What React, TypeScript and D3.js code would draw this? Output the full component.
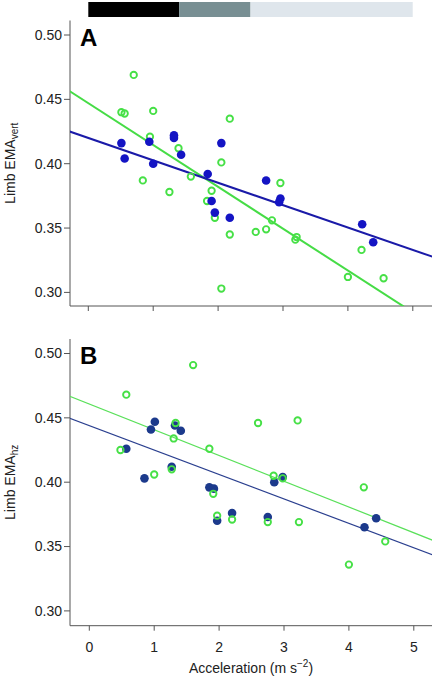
import React from "react";
import * as d3 from "d3";

// ---- Data ----
const phaseStarts = [0, 1.4, 2.5];
const phaseEnds = [1.4, 2.5, 5.0];
const phaseColors = ["#000000", "#788f93", "#dfe6ec"];

// Panel A (Limb EMA vert)
const aBlueX = [0.51, 0.56, 0.94, 1.32, 1.32, 1.43, 1.0, 1.84, 2.05, 1.9, 1.95, 2.18, 2.74, 2.96, 2.94, 4.22, 4.39];
const aBlueY = [0.416, 0.404, 0.417, 0.422, 0.42, 0.407, 0.4, 0.392, 0.416, 0.371, 0.362, 0.358, 0.387, 0.373, 0.37, 0.353, 0.339];
const aGreenX = [0.7, 0.51, 0.56, 1.0, 0.95, 1.39, 2.05, 2.18, 0.84, 1.25, 1.58, 1.9, 1.83, 1.95, 2.18, 2.05, 2.96, 2.83, 2.74, 2.58, 3.21, 3.19, 4.21, 4.0, 4.55];
const aGreenY = [0.469, 0.44, 0.439, 0.441, 0.421, 0.412, 0.401, 0.435, 0.387, 0.378, 0.39, 0.379, 0.371, 0.358, 0.345, 0.303, 0.385, 0.356, 0.349, 0.347, 0.343, 0.341, 0.333, 0.312, 0.311];
// regression [intercept, slope]
const aBlueFit = [0.42, -0.0174];
const aGreenFit = [0.447, -0.0325];

// Panel B (Limb EMA hz)
const bBlueX = [0.57, 0.95, 1.01, 1.32, 1.41, 0.85, 1.27, 1.85, 1.92, 1.97, 2.2, 2.75, 2.85, 2.98, 4.42, 4.24];
const bBlueY = [0.426, 0.441, 0.447, 0.444, 0.44, 0.403, 0.412, 0.396, 0.395, 0.37, 0.376, 0.373, 0.4, 0.404, 0.372, 0.365];
const bGreenX = [1.6, 0.57, 2.6, 3.21, 1.33, 1.3, 1.85, 0.48, 1.0, 1.27, 1.91, 1.97, 2.2, 2.75, 2.84, 2.98, 3.23, 4.23, 4.56, 4.0];
const bGreenY = [0.491, 0.468, 0.446, 0.448, 0.446, 0.434, 0.426, 0.425, 0.406, 0.41, 0.391, 0.374, 0.371, 0.369, 0.405, 0.403, 0.369, 0.396, 0.354, 0.336];
const bBlueFit = [0.444, -0.019];
const bGreenFit = [0.4607, -0.02];

const xTicks = [0, 1, 2, 3, 4, 5];
const yTicks = [0.3, 0.35, 0.4, 0.45, 0.5];

const FONT = "'Liberation Sans', Arial, Helvetica, sans-serif";
const GREEN = "#46e046";

type PanelProps = {
  id: string;
  letter: string;
  top: number;
  bottom: number;
  x0: number;
  yAt50: number;
  blueX: number[];
  blueY: number[];
  greenX: number[];
  greenY: number[];
  blueFit: number[];
  greenFit: number[];
  blueColor: string;
  blueLine: string;
  greenLine: string;
  lineWidth: number;
  sub: string;
  showXLabels: boolean;
  greenFirst: boolean;
};

function Panel(p: PanelProps) {
  const left = 70;
  const right = 432;
  const pxPerUnitY = 1287;
  const x = d3.scaleLinear().domain([0, 5]).range([p.x0, p.x0 + 324.5]);
  const y = d3
    .scaleLinear()
    .domain([0.3, 0.5])
    .range([p.yAt50 + 0.2 * pxPerUnitY, p.yAt50]);
  const line = d3
    .line<number>()
    .x((d) => x(d))
    .y((d) => d);
  const fitPath = (fit: number[]) =>
    d3
      .line<number>()
      .x((d) => x(d))
      .y((d) => y(fit[0] + fit[1] * d))([-0.4, 5.4]) || "";
  void line;

  const blues = blueMarks();
  function blueMarks() {
    return p.blueX.map((v, i) => (
      <circle key={"b" + i} cx={x(v)} cy={y(p.blueY[i])} r={4.3} fill={p.blueColor} />
    ));
  }
  const greens = p.greenX.map((v, i) => (
    <circle
      key={"g" + i}
      cx={x(v)}
      cy={y(p.greenY[i])}
      r={3.2}
      fill="none"
      stroke={GREEN}
      strokeWidth={1.9}
    />
  ));

  const midY = (p.top + p.bottom) / 2;
  return (
    <g>
      <defs>
        <clipPath id={"clip" + p.id}>
          <rect x={left} y={p.top} width={right - left} height={p.bottom - p.top} />
        </clipPath>
      </defs>
      {/* axes */}
      <line x1={left} x2={left} y1={p.top} y2={p.bottom} stroke="#555" strokeWidth={1} />
      <line x1={left} x2={right} y1={p.bottom} y2={p.bottom} stroke="#555" strokeWidth={1} />
      {yTicks.map((t) => (
        <g key={"yt" + t}>
          <line x1={left - 6} x2={left} y1={y(t)} y2={y(t)} stroke="#555" strokeWidth={1} />
          <text
            x={left - 8}
            y={y(t)}
            dy="0.35em"
            textAnchor="end"
            fontFamily={FONT}
            fontSize={14}
            fill="#222"
          >
            {t.toFixed(2)}
          </text>
        </g>
      ))}
      {xTicks.map((t) => (
        <g key={"xt" + t}>
          <line x1={x(t)} x2={x(t)} y1={p.bottom} y2={p.bottom + 5} stroke="#555" strokeWidth={1} />
          {p.showXLabels && (
            <text
              x={x(t)}
              y={p.bottom + 26}
              textAnchor="middle"
              fontFamily={FONT}
              fontSize={14}
              fill="#222"
            >
              {t}
            </text>
          )}
        </g>
      ))}
      <text
        transform={`translate(15,${midY}) rotate(-90)`}
        textAnchor="middle"
        fontFamily={FONT}
        fontSize={14}
        fill="#222"
      >
        Limb EMA
        <tspan fontSize={10} dy={3}>
          {p.sub}
        </tspan>
      </text>
      <text x={80} y={p.top + 25} fontFamily={FONT} fontWeight="bold" fontSize={24} fill="#000">
        {p.letter}
      </text>
      <g clipPath={`url(#clip${p.id})`}>
        <path d={fitPath(p.greenFit)} stroke={p.greenLine} strokeWidth={p.lineWidth} fill="none" />
        <path d={fitPath(p.blueFit)} stroke={p.blueLine} strokeWidth={p.lineWidth} fill="none" />
        {p.greenFirst ? greens : blues}
        {p.greenFirst ? blues : greens}
      </g>
    </g>
  );
}

export default function App() {
  const barX = d3.scaleLinear().domain([0, 5]).range([88.3, 412.7]);
  return (
    <svg
      width={434}
      height={678}
      style={{ position: "absolute", left: 0, top: 0, background: "#fff" }}
    >
      {phaseStarts.map((s, i) => (
        <rect
          key={"ph" + i}
          x={barX(s)}
          y={2}
          width={barX(phaseEnds[i]) - barX(s)}
          height={15}
          fill={phaseColors[i]}
        />
      ))}
      <Panel
        id="A"
        letter="A"
        top={20.5}
        bottom={306}
        x0={88.3}
        yAt50={35}
        blueX={aBlueX}
        blueY={aBlueY}
        greenX={aGreenX}
        greenY={aGreenY}
        blueFit={aBlueFit}
        greenFit={aGreenFit}
        blueColor="#1414c4"
        blueLine="#1a1aa8"
        greenLine="#46dc46"
        lineWidth={2}
        sub="vert"
        showXLabels={false}
        greenFirst={true}
      />
      <Panel
        id="B"
        letter="B"
        top={339}
        bottom={625.7}
        x0={89.3}
        yAt50={353.5}
        blueX={bBlueX}
        blueY={bBlueY}
        greenX={bGreenX}
        greenY={bGreenY}
        blueFit={bBlueFit}
        greenFit={bGreenFit}
        blueColor="#1c3a8c"
        blueLine="#2a3f8f"
        greenLine="#5ae05a"
        lineWidth={1.2}
        sub="hz"
        showXLabels={true}
        greenFirst={false}
      />
      <text x={251} y={673} textAnchor="middle" fontFamily={FONT} fontSize={14} fill="#222">
        Acceleration (m s
        <tspan fontSize={10} dy={-6}>
          −2
        </tspan>
        <tspan dy={6}>)</tspan>
      </text>
    </svg>
  );
}
